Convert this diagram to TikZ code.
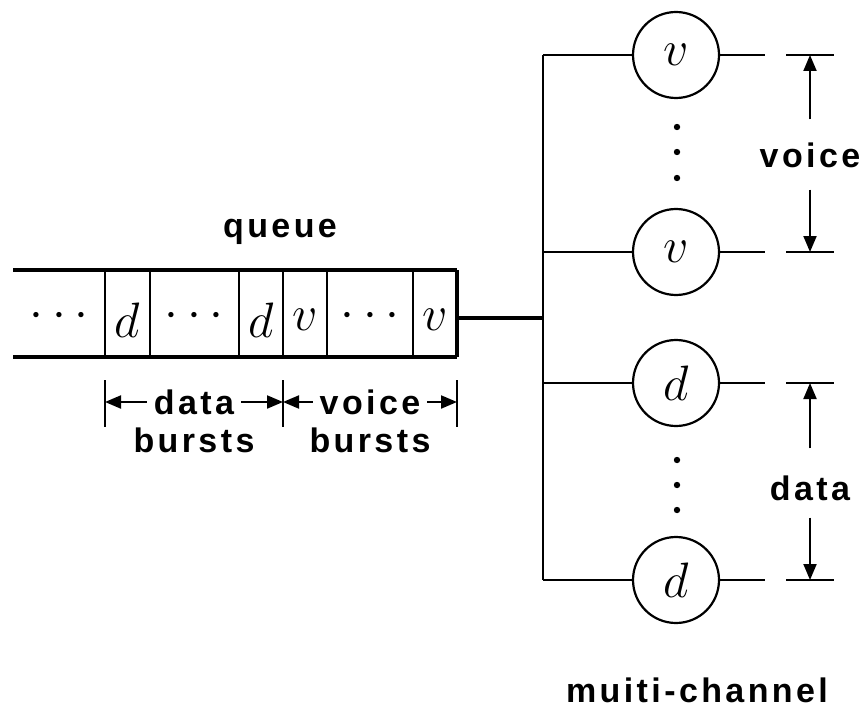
\documentclass[tikz,border=0pt]{standalone}
\usepackage{fontspec}
\setsansfont{Liberation Sans}[LetterSpace=10]
\usetikzlibrary{arrows.meta, positioning}

\begin{document}
\begin{tikzpicture}[
			x=0.5pt, y=-0.5pt,
			every node/.style={font=\sffamily\bfseries\fontsize{17}{19}\selectfont},
			channel/.style={
				circle,
				minimum size=43pt,
				inner sep=0pt,
				line width=1.1pt,
				draw=black
			},
			symbol/.style={font=\fontsize{26}{26}\selectfont},
			wire/.style={line width=1.1pt},
			bar/.style={line width=2.4pt},
			dim/.style={line width=1pt,-{Triangle[length=8pt,width=6.5pt]}}
			]
			\useasboundingbox (0,0) rectangle (866,711);
			
			% Queue
			\draw[bar] (13,270) -- (457,270);
			\draw[bar] (13,357) -- (457,357);
			\draw[bar] (457,270) -- (457,357);
			\foreach \x in {105,150,239,283,327,413}
			\draw[wire] (\x,270) -- (\x,357);
			
			\node (queue) at (280,232) {queue};
			\node (dots1) [symbol] at (59,316) {$\cdots$};
			\node (dfirst) [symbol] at (127,320) {$d$};
			\node (dots2) [symbol] at (194,316) {$\cdots$};
			\node (dlast) [symbol] at (261,320) {$d$};
			\node (vfirst) [symbol] at (305,320) {$v$};
			\node (dots3) [symbol] at (370,316) {$\cdots$};
			\node (vlast) [symbol] at (435,320) {$v$};
			
			% Burst labels
			\node (databurst) at (194,402) {data};
			\node (voiceburst) at (370,402) {voice};
			\node at (194,440) {bursts};
			\node at (370,440) {bursts};
			\foreach \x in {105,283,457}
			\draw[wire] (\x,380) -- (\x,427);
			\coordinate (dl) at (105,402);
			\coordinate (dr) at (283,402);
			\coordinate (vr) at (457,402);
			\draw[dim] (databurst.west) -- (dl);
			\draw[dim] (databurst.east) -- (dr);
			\draw[dim] (voiceburst.west) -- (dr);
			\draw[dim] (voiceburst.east) -- (vr);
			
			% Channels
			\node (v1) [channel] at (676,55) {};
			\node (v2) [channel] at (676,252) {};
			\node (d1) [channel] at (676,383) {};
			\node (d2) [channel] at (676,580) {};
			\node [symbol] at (v1) {$v$};
			\node [symbol] at (v2) {$v$};
			\node [symbol] at (d1) {$d$};
			\node [symbol] at (d2) {$d$};
			\foreach \y in {127,152,178,460,485,510}
			\fill (677,\y) circle (1.6pt);
			
			% Bus
			\coordinate (qend) at (457,318);
			\coordinate (bus) at (543,318);
			\draw[bar] (qend) -- (bus);
			\draw[wire] (v1.west -| bus) -- (d2.west -| bus);
			\foreach \c in {v1,v2,d1,d2}
			\draw[wire] (\c.west -| bus) -- (\c.west);
			
			% Outputs
			\foreach \c in {v1,v2,d1,d2}
			{
				\coordinate (\c out) at (\c.east -| 765,0);
				\draw[wire] (\c.east) -- (\c out);
				\draw[wire] (\c.east -| 786,0) -- (\c.east -| 834,0);
			}
			
			% Groups
			\node (voice) at (810,155) {voice};
			\node (data) at (810,488) {data};
			\draw[dim] (voice.north) ++(0,-16) -- (v1.east -| voice);
			\draw[dim] (voice.south) ++(0,15) -- (v2.east -| voice);
			\draw[dim] (data.north) ++(0,-20) -- (d1.east -| data);
			\draw[dim] (data.south) ++(0,10) -- (d2.east -| data);
			
			\node (multi) at (697,690) {muiti-channel};
			
		\end{tikzpicture}
\end{document}
